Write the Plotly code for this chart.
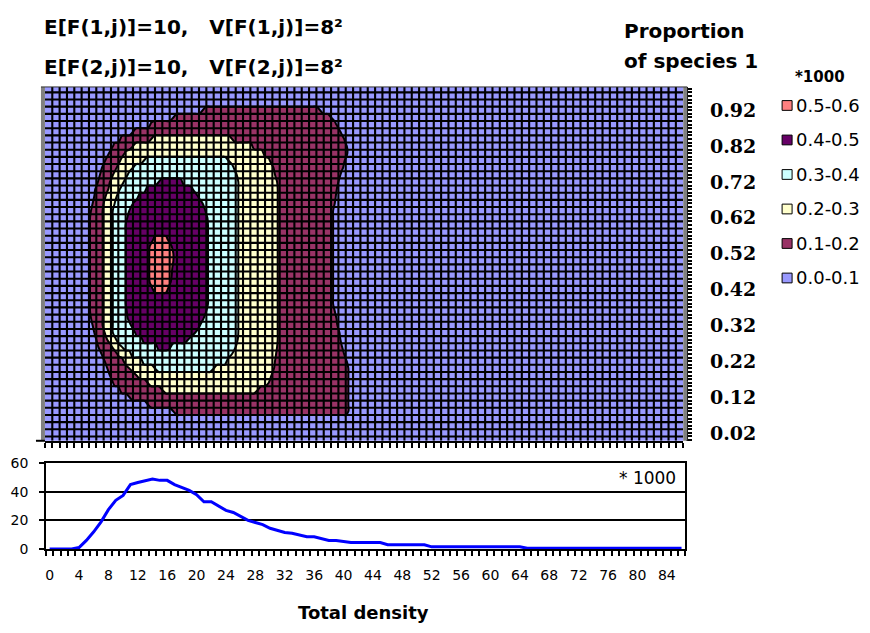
import plotly.graph_objects as go

W, H = 870, 633

# ---------------- data ----------------
# Frequency (x1000) of each total density 0..86
density = list(range(87))
freq_x1000 = [0, 0, 0, 0, 1, 6, 12, 19, 27.5, 34,
               37.5, 45, 46.5, 47.5, 49, 48, 48, 45, 43, 41,
               38, 33, 33, 30, 27, 25.5, 23, 20, 18.5, 17,
               14.5, 13, 11.5, 11, 10, 8.5, 8.5, 7, 6, 6,
               5, 4.5, 4.5, 4.5, 4.5, 4.5, 3, 3, 3, 3,
               3, 3, 1.5, 1.5, 1.5, 1.5, 1.5, 1.5, 1.5, 1.5,
               1.5, 1.5, 1.5, 1.5, 1.5, 0.5, 0.5, 0.5, 0.5, 0.5,
               0.5, 0.5, 0.5, 0.5, 0.5, 0.5, 0.5, 0.5, 0.5, 0.5,
               0.5, 0.5, 0.5, 0.5, 0.5, 0.5, 0.5]

density_ticks = list(range(0, 85, 4))
prop_ticks = [0.02, 0.12, 0.22, 0.32, 0.42, 0.52, 0.62, 0.72, 0.82, 0.92]
freq_ticks = [0, 20, 40, 60]

band_labels = ["0.0-0.1", "0.1-0.2", "0.2-0.3", "0.3-0.4", "0.4-0.5", "0.5-0.6"]
band_colors = ["#9999FF", "#993366", "#FFFFCC", "#CCFFFF", "#660066", "#FF8080"]

# Extent of each joint-density level along total density, row by row
# (proportion of species 1, lowest density, highest density)
level_01 = [
    (0.92, 21.0, 37.0),
    (0.90, 17.0, 38.5), (0.88, 13.9, 39.2), (0.86, 11.5, 39.8), (0.84, 9.8, 40.3),
    (0.82, 8.8, 40.6), (0.80, 8.2, 40.7), (0.78, 7.7, 40.4), (0.76, 7.3, 40.1),
    (0.74, 7.0, 39.8), (0.72, 6.7, 39.5), (0.70, 6.4, 39.3), (0.68, 6.2, 39.1),
    (0.66, 6.0, 39.0), (0.64, 5.8, 38.8), (0.62, 5.6, 38.8), (0.60, 5.6, 38.8),
    (0.58, 5.6, 38.8), (0.56, 5.6, 38.8), (0.54, 5.6, 38.8), (0.52, 5.6, 38.8),
    (0.50, 5.6, 38.8), (0.48, 5.6, 38.8), (0.46, 5.6, 38.8), (0.44, 5.6, 38.8),
    (0.42, 5.6, 38.8), (0.40, 5.6, 38.8), (0.38, 5.6, 38.8), (0.36, 5.6, 39.0),
    (0.34, 5.8, 39.2), (0.32, 6.0, 39.4), (0.30, 6.2, 39.6), (0.28, 6.5, 39.8),
    (0.26, 6.8, 40.0), (0.24, 7.2, 40.3), (0.22, 7.6, 40.6), (0.20, 8.0, 40.9),
    (0.18, 8.4, 40.9), (0.16, 8.8, 40.9), (0.14, 9.7, 40.9), (0.12, 11.0, 40.9),
    (0.10, 13.5, 40.9), (0.08, 17.0, 40.9),
]
level_02 = [
    (0.84, 14.0, 25.0), (0.82, 11.5, 27.8), (0.80, 10.4, 29.3), (0.78, 9.8, 30.1),
    (0.76, 9.3, 30.6), (0.74, 8.8, 30.9), (0.72, 8.4, 31.1), (0.70, 8.1, 31.2),
    (0.68, 7.8, 31.2), (0.66, 7.5, 31.2), (0.64, 7.4, 31.2), (0.62, 7.4, 31.2),
    (0.60, 7.4, 31.2), (0.58, 7.4, 31.2), (0.56, 7.4, 31.2), (0.54, 7.4, 31.2),
    (0.52, 7.4, 31.2), (0.50, 7.4, 31.2), (0.48, 7.4, 31.2), (0.46, 7.4, 31.2),
    (0.44, 7.4, 31.2), (0.42, 7.4, 31.2), (0.40, 7.4, 31.2), (0.38, 7.4, 31.2),
    (0.36, 7.4, 31.2), (0.34, 7.4, 31.2), (0.32, 7.4, 31.2), (0.30, 7.6, 31.2),
    (0.28, 8.0, 31.2), (0.26, 8.6, 31.1), (0.24, 9.4, 31.0), (0.22, 10.2, 30.9),
    (0.20, 11.0, 30.7), (0.18, 12.0, 30.4), (0.16, 13.5, 30.0), (0.14, 15.5, 28.5),
]
level_03 = [
    (0.78, 13.0, 24.5), (0.76, 11.5, 25.2), (0.74, 10.8, 25.6), (0.72, 10.2, 25.9),
    (0.70, 9.7, 25.9), (0.68, 9.3, 25.9), (0.66, 9.0, 25.9), (0.64, 8.75, 25.9),
    (0.62, 8.75, 25.9), (0.60, 8.75, 25.9), (0.58, 8.75, 25.9), (0.56, 8.75, 25.9),
    (0.54, 8.75, 25.9), (0.52, 8.75, 25.9), (0.50, 8.75, 25.9), (0.48, 8.75, 25.9),
    (0.46, 8.75, 25.9), (0.44, 8.75, 25.9), (0.42, 8.75, 25.9), (0.40, 8.75, 25.9),
    (0.38, 8.75, 25.9), (0.36, 8.75, 25.9), (0.34, 8.75, 25.9), (0.32, 8.75, 25.9),
    (0.30, 8.75, 25.9), (0.28, 9.2, 25.8), (0.26, 10.0, 25.5), (0.24, 11.2, 25.0),
    (0.22, 12.8, 24.3), (0.20, 14.5, 22.5),
]
level_04 = [
    (0.72, 15.0, 18.2), (0.70, 13.3, 19.6), (0.68, 12.2, 20.4), (0.66, 11.5, 21.0),
    (0.64, 11.0, 21.4), (0.62, 10.7, 21.6), (0.60, 10.5, 21.7), (0.58, 10.5, 21.7),
    (0.56, 10.5, 21.7), (0.54, 10.5, 21.7), (0.52, 10.5, 21.7), (0.50, 10.5, 21.7),
    (0.48, 10.5, 21.7), (0.46, 10.5, 21.7), (0.44, 10.5, 21.7), (0.42, 10.5, 21.7),
    (0.40, 10.5, 21.7), (0.38, 10.5, 21.7), (0.36, 10.6, 21.5), (0.34, 10.8, 21.1),
    (0.32, 11.2, 20.6), (0.30, 11.8, 20.0), (0.28, 12.8, 19.0), (0.26, 14.8, 16.6),
]
level_05 = [
    (0.56, 14.3, 16.2), (0.54, 13.8, 16.8), (0.52, 13.7, 17.0), (0.50, 13.7, 17.0),
    (0.48, 13.7, 16.9), (0.46, 13.7, 16.8), (0.44, 13.8, 16.6), (0.42, 14.2, 16.2),
]
levels = [level_01, level_02, level_03, level_04, level_05]

# ---------------- helpers ----------------
def px(x):
    return x / W


def py(y):
    return 1 - y / H


X_RANGE = [-0.5, 86.5]
Y_RANGE = [-0.002, 0.985]

# Sampling lattice for the joint-density surface
STEP = 0.5
grid_x = [-0.5 + STEP * i for i in range(175)]
grid_y = [round(-0.02 + 0.02 * j, 2) for j in range(52)]
lookup = [{round(r[0], 2): (r[1], r[2]) for r in lv} for lv in levels]


def inside(xv, lo, hi):
    # 1 well inside the extent, 0 outside, 0.5 exactly on its edge
    d = min(xv - lo, hi - xv)
    return max(0.0, min(1.0, 0.5 + d / STEP))


z = []
for yv in grid_y:
    row = []
    for xv in grid_x:
        n = 0.0
        for lk in lookup:
            ext = lk.get(yv)
            if ext:
                n += inside(xv, ext[0], ext[1])
        row.append(0.05 + 0.1 * n)
    z.append(row)

# stepped colour scale: one flat colour per 0.1 band
cscale = []
stops = [0, 0.1, 0.3, 0.5, 0.7, 0.9, 1.0]
for i, c in enumerate(band_colors):
    cscale.append([stops[i], c])
    cscale.append([stops[i + 1], c])

fig = go.Figure()

fig.add_trace(go.Contour(
    x=grid_x, y=grid_y, z=z, xaxis="x", yaxis="y",
    autocontour=False,
    contours=dict(start=0.1, end=0.5, size=0.1, coloring="fill", showlines=True),
    line=dict(color="black", width=2, smoothing=1.3),
    colorscale=cscale, showscale=False, hoverinfo="skip",
))

# wireframe over the surface: one line per density step and per 0.02 of proportion
wx, wy = [], []
for k in range(1, len(density)):
    xv = density[k] - 0.5
    wx += [xv, xv, None]
    wy += [Y_RANGE[0], Y_RANGE[1], None]
j = 0
while 0.01 + 0.02 * j < Y_RANGE[1]:
    yv = 0.01 + 0.02 * j
    wx += [X_RANGE[0], X_RANGE[1], None]
    wy += [yv, yv, None]
    j += 1
fig.add_trace(go.Scatter(
    x=wx, y=wy, mode="lines", xaxis="x", yaxis="y",
    line=dict(color="black", width=2.1), hoverinfo="skip", showlegend=False,
))

# marginal distribution of total density
fig.add_trace(go.Scatter(
    x=density, y=freq_x1000, mode="lines", xaxis="x2", yaxis="y2",
    line=dict(color="#0000FF", width=3), hoverinfo="skip", showlegend=False,
))

fig.update_layout(
    width=W, height=H,
    margin=dict(l=0, r=0, t=0, b=0),
    paper_bgcolor="white", plot_bgcolor="white",
    showlegend=False,
    xaxis=dict(
        domain=[px(44), px(683)], range=X_RANGE, anchor="y",
        showgrid=False, zeroline=False, showticklabels=False,
        showline=True, linecolor="black", linewidth=2,
        ticks="outside", ticklen=5, tickcolor="black", tickwidth=1.5,
        tickmode="linear", tick0=-0.5, dtick=1,
    ),
    yaxis=dict(
        domain=[py(444), py(81)], range=Y_RANGE, anchor="free",
        position=px(687), side="right",
        showgrid=False, zeroline=False,
        showline=True, linecolor="black", linewidth=2,
        tickmode="array", tickvals=prop_ticks,
        ticktext=[f"{v:.2f}" for v in prop_ticks],
        ticks="outside", ticklen=4, tickcolor="black", tickwidth=1.5,
        minor=dict(ticks="outside", ticklen=4, tickcolor="black",
                   tickwidth=1.5, tickmode="linear", tick0=0, dtick=0.01),
        tickfont=dict(family="DejaVu Serif", size=19, color="black", weight="bold"),
        ticklabelstandoff=14,
    ),
    xaxis2=dict(
        domain=[px(45), px(685)], range=X_RANGE, anchor="y2",
        showgrid=False, zeroline=False,
        showline=True, mirror=True, linecolor="black", linewidth=2,
        tickmode="array", tickvals=density_ticks,
        ticktext=[str(v) for v in density_ticks], ticks="",
        minor=dict(ticks="outside", ticklen=5, tickcolor="black", tickwidth=1.5,
                   tickmode="linear", tick0=-0.5, dtick=1),
        tickfont=dict(family="DejaVu Sans", size=14, color="black"),
        ticklabelstandoff=12,
    ),
    yaxis2=dict(
        domain=[py(555), py(467)], range=[0, 60], anchor="x2",
        showgrid=True, gridcolor="black", gridwidth=1.5, zeroline=False,
        showline=True, mirror=True, linecolor="black", linewidth=1.5,
        tickmode="array", tickvals=freq_ticks,
        ticks="outside", ticklen=5, tickcolor="black", tickwidth=1.5,
        tickfont=dict(family="DejaVu Sans", size=14, color="black"),
        ticklabelstandoff=8,
    ),
)

shapes = [
    # side walls of the surface box
    dict(type="rect", xref="paper", yref="paper", x0=px(40), x1=px(44),
         y0=py(444), y1=py(81), fillcolor="#808080", line=dict(width=0), layer="above"),
    dict(type="rect", xref="paper", yref="paper", x0=px(683), x1=px(687),
         y0=py(444), y1=py(81), fillcolor="#808080", line=dict(width=0), layer="above"),
    dict(type="line", xref="paper", yref="paper", x0=px(40), x1=px(687),
         y0=py(81), y1=py(81), line=dict(color="#303030", width=1), layer="above"),
    dict(type="line", xref="paper", yref="paper", x0=px(35), x1=px(44),
         y0=py(444), y1=py(444), line=dict(color="black", width=2), layer="above"),
]

annotations = [
    dict(text="E[F(1,j)]=10,   V[F(1,j)]=8²", x=px(41), y=py(20), xanchor="left",
         yanchor="middle", font=dict(family="DejaVu Sans", size=20, color="black", weight="bold")),
    dict(text="E[F(2,j)]=10,   V[F(2,j)]=8²", x=px(41), y=py(61), xanchor="left",
         yanchor="middle", font=dict(family="DejaVu Sans", size=20, color="black", weight="bold")),
    dict(text="Proportion", x=px(622), y=py(24), xanchor="left", yanchor="middle",
         font=dict(family="DejaVu Sans", size=20, color="black", weight="bold")),
    dict(text="of species 1", x=px(622), y=py(54), xanchor="left", yanchor="middle",
         font=dict(family="DejaVu Sans", size=20, color="black", weight="bold")),
    dict(text="*1000", x=px(820), y=py(71), xanchor="center", yanchor="middle",
         font=dict(family="DejaVu Sans", size=15, color="black", weight="bold")),
    dict(text="* 1000", x=px(678), y=py(482), xanchor="right", yanchor="middle",
         font=dict(family="DejaVu Sans", size=17, color="black")),
    dict(text="Total density", x=px(363), y=py(620), xanchor="center", yanchor="middle",
         font=dict(family="DejaVu Sans", size=18, color="black", weight="bold")),
]

# legend: highest band on top
for i, idx in enumerate(range(len(band_labels) - 1, -1, -1)):
    yc = 100 + 35.4 * i
    shapes.append(dict(type="rect", xref="paper", yref="paper",
                       x0=px(782), x1=px(792), y0=py(yc + 5), y1=py(yc - 5),
                       fillcolor=band_colors[idx], line=dict(color="black", width=1)))
    annotations.append(dict(text=band_labels[idx], x=px(794), y=py(yc), xanchor="left",
                            yanchor="middle", font=dict(family="DejaVu Sans", size=18, color="black")))

for a in annotations:
    a.update(xref="paper", yref="paper", showarrow=False)

fig.update_layout(shapes=shapes, annotations=annotations)

fig.write_html("out.html")
